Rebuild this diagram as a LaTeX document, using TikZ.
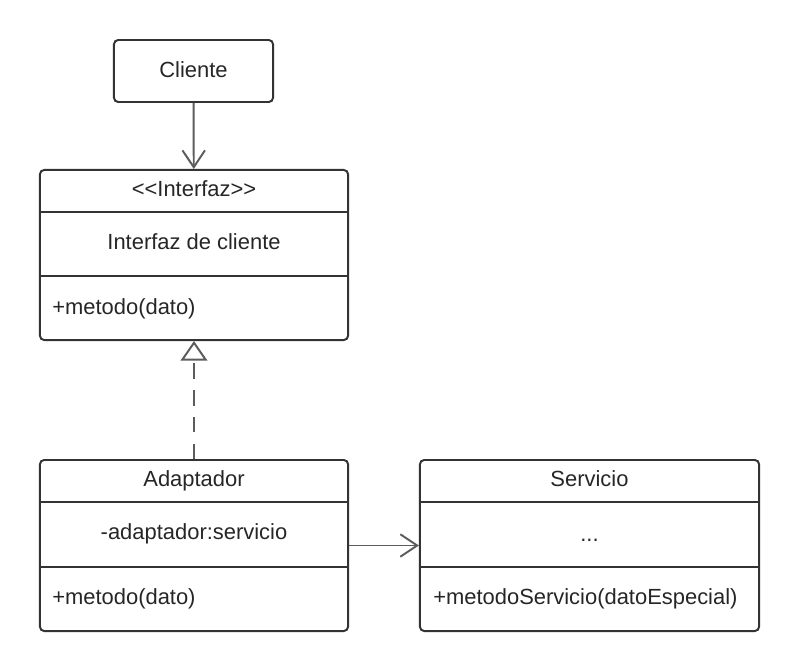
\documentclass[tikz,border=0pt]{standalone}
\usepackage{fontspec}
\setmainfont{Liberation Sans}
\usetikzlibrary{arrows.meta}
\definecolor{umlLine}{RGB}{51,51,51}
\definecolor{umlConn}{RGB}{92,92,92}
\definecolor{umlText}{RGB}{38,38,38}

\begin{document}
\begin{tikzpicture}[x=0.025cm,y=-0.025cm,
  classbox/.style={draw=umlLine,line width=1.4pt,rounded corners=3pt,inner sep=0pt},
  classtxt/.style={font=\fontsize{15.6}{18}\selectfont,text=umlText,inner sep=0pt,anchor=base},
  methodtxt/.style={classtxt,anchor=base west},
  sepline/.style={draw=umlLine,line width=1.4pt},
  conn/.style={draw=umlConn,line width=1.4pt},
  assoc/.style={conn,-{Straight Barb[length=12pt,width=16pt]}},
  realize/.style={conn,dash pattern=on 11pt off 8pt,-{Triangle[open,length=14pt,width=19pt,fill=white]}}]
\useasboundingbox (0,0) rectangle (800,671);

% cliente
\node[classbox,minimum width=3.975cm,minimum height=1.55cm] (cliente) at (193.5,71) {};
\node[classtxt] (clienteName) at (193.5,77) {Cliente};

% interfaz de cliente
\node[classbox,minimum width=7.7cm,minimum height=4.25cm] (interfaz) at (194,255) {};
\draw[sepline] (interfaz.west |- 0,212) -- (interfaz.east |- 0,212);
\draw[sepline] (interfaz.west |- 0,276) -- (interfaz.east |- 0,276);
\node[classtxt] (interfazStereo) at (194,196) {{<}{<}Interfaz{>}{>}};
\node[classtxt] (interfazName) at (194,249) {Interfaz de cliente};
\node[methodtxt] (interfazOp) at (52,314) {+metodo(dato)};

% adaptador
\node[classbox,minimum width=7.7cm,minimum height=4.275cm] (adaptador) at (194,545.5) {};
\draw[sepline] (adaptador.west |- 0,502) -- (adaptador.east |- 0,502);
\draw[sepline] (adaptador.west |- 0,567) -- (adaptador.east |- 0,567);
\node[classtxt] (adaptadorName) at (194,486) {Adaptador};
\node[classtxt] (adaptadorAttr) at (194,539) {-adaptador:servicio};
\node[methodtxt] (adaptadorOp) at (52,604) {+metodo(dato)};

% servicio
\node[classbox,minimum width=8.475cm,minimum height=4.275cm] (servicio) at (589.5,545.5) {};
\draw[sepline] (servicio.west |- 0,502) -- (servicio.east |- 0,502);
\draw[sepline] (servicio.west |- 0,567) -- (servicio.east |- 0,567);
\node[classtxt] (servicioName) at (589.5,486) {Servicio};
\node[classtxt] (servicioAttr) at (589.5,541) {...};
\node[methodtxt] (servicioOp) at (433,604) {+metodoServicio(datoEspecial)};

% relaciones
\draw[assoc] (cliente) -- (interfaz);
\draw[realize] (adaptador) -- (interfaz);
\draw[assoc] (adaptador) -- (servicio);
\end{tikzpicture}
\end{document}
